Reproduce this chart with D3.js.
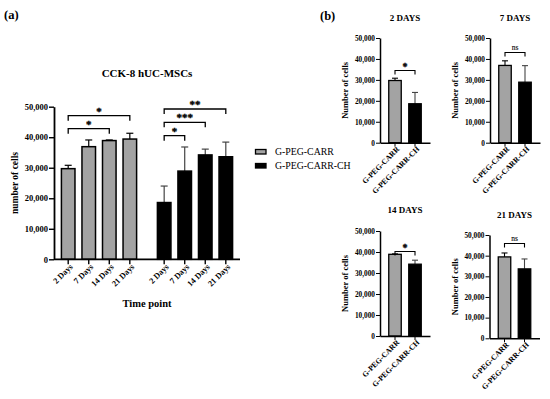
<!DOCTYPE html>
<html><head><meta charset="utf-8">
<script src="https://cdn.jsdelivr.net/npm/d3@7"></script>
<style>
body{margin:0;background:#fff;}
svg{display:block;font-family:"Liberation Serif","Times New Roman",serif;}
.sig text{stroke:#000;stroke-width:0.35px;}
</style></head>
<body><svg id="c" width="550" height="399"></svg>
<script>
const days = ["2 Days","7 Days","14 Days","21 Days"];
const groups = ["G-PEG-CARR","G-PEG-CARR-CH"];
const carrMean = [29700, 36900, 38900, 39400];
const carrErr  = [1100, 2200, 200, 1900];
const chMean   = [18600, 28900, 34200, 33600];
const chErr    = [5400, 7900, 1900, 4800];
const yTicks   = [0, 10000, 20000, 30000, 40000, 50000];
const panelTitles = ["2 DAYS","7 DAYS","14 DAYS","21 DAYS"];
const panelSig = ["*","ns","*","ns"];
// main-chart significance: group index, from day, to day, label
const sigGroup = [0, 0, 1, 1, 1];
const sigFrom  = [0, 0, 0, 0, 0];
const sigTo    = [2, 3, 1, 2, 3];
const sigLabel = ["*", "*", "*", "***", "**"];

const fills = ["#a3a3a3", "#000"];
const errCol = ["#000", "#444"];
const svg = d3.select("#c");
const fmt = d3.format(",");

// ---------- panel (a) ----------
const y = d3.scaleLinear().domain([0, 50000]).range([259.3, 106.7]);
const xo = d3.scaleBand().domain(groups).range([54, 240]).paddingInner(0.208).paddingOuter(0.073);
const xi = d3.scaleBand().domain(days).range([0, xo.bandwidth()]).paddingInner(0.34).paddingOuter(0.02);

svg.append("text").attr("x", 4).attr("y", 19).attr("font-size", 12.5).attr("font-weight", "bold").text("(a)");
svg.append("text").attr("x", 147).attr("y", 77).attr("text-anchor", "middle")
  .attr("font-size", 11).attr("font-weight", "bold").text("CCK-8 hUC-MSCs");

const means = [carrMean, chMean], errs = [carrErr, chErr];
groups.forEach((g, gi) => {
  const gg = svg.append("g").attr("transform", `translate(${xo(g)},0)`);
  days.forEach((d, di) => {
    const cx = xi(d) + xi.bandwidth() / 2;
    const top = y(means[gi][di] + errs[gi][di]);
    gg.append("line").attr("x1", cx).attr("x2", cx).attr("y1", y(means[gi][di])).attr("y2", top)
      .attr("stroke", errCol[gi]).attr("stroke-width", 1.2);
    gg.append("line").attr("x1", cx - 3.5).attr("x2", cx + 3.5).attr("y1", top).attr("y2", top)
      .attr("stroke", errCol[gi]).attr("stroke-width", 1.2);
    gg.append("rect").attr("x", xi(d)).attr("width", xi.bandwidth())
      .attr("y", y(means[gi][di])).attr("height", y(0) - y(means[gi][di]))
      .attr("fill", fills[gi]).attr("stroke", "#000").attr("stroke-width", 1.5);
  });
  const ax = gg.append("g").attr("transform", `translate(0,${y(0)})`)
    .call(d3.axisBottom(xi).tickSize(5).tickSizeOuter(0));
  ax.select(".domain").remove();
  ax.selectAll(".tick line").attr("stroke-width", 1.4);
  ax.selectAll("text").attr("font-size", 8.3).attr("font-weight", "bold").attr("font-family", "Liberation Serif")
    .attr("text-anchor", "end").attr("transform", "translate(3,6) rotate(-45)").attr("dy", "0.35em").attr("y", 0);
});
svg.append("line").attr("x1", 54).attr("x2", 240).attr("y1", y(0)).attr("y2", y(0))
  .attr("stroke", "#000").attr("stroke-width", 1.8);

const yax = svg.append("g").attr("transform", "translate(54,0)")
  .call(d3.axisLeft(y).tickValues(yTicks).tickFormat(fmt).tickSize(5).tickSizeOuter(0));
yax.select(".domain").attr("stroke-width", 1.8);
yax.selectAll(".tick line").attr("stroke-width", 1.4);
yax.selectAll("text").attr("font-size", 8.5).attr("font-weight", "bold").attr("font-family", "Liberation Serif").attr("x", -6);

svg.append("text").attr("transform", `translate(18,${(y(0) + y(50000)) / 2}) rotate(-90)`)
  .attr("text-anchor", "middle").attr("font-size", 9.5).attr("font-weight", "bold").text("number of cells");
svg.append("text").attr("x", 147).attr("y", 307).attr("text-anchor", "middle")
  .attr("font-size", 10.5).attr("font-weight", "bold").text("Time point");

// brackets (a)
const bracketY = [128.7, 115.7, 135.7, 122.3, 109];
const sigG = svg.append("g").attr("class", "sig");
sigLabel.forEach((lab, i) => {
  const g = groups[sigGroup[i]];
  const x1 = xo(g) + xi(days[sigFrom[i]]) + xi.bandwidth() / 2;
  const x2 = xo(g) + xi(days[sigTo[i]]) + xi.bandwidth() / 2;
  const by = bracketY[i];
  sigG.append("path").attr("d", `M${x1},${by + 5}V${by}H${x2}V${by + 5}`)
    .attr("fill", "none").attr("stroke", "#000").attr("stroke-width", 1.3);
  sigG.append("text").attr("x", (x1 + x2) / 2).attr("y", by - 1).attr("text-anchor", "middle")
    .attr("font-size", 11).attr("font-weight", "bold").attr("fill", "#000").text(lab);
});

// legend
groups.forEach((g, gi) => {
  const ly = 149.5 + gi * 14;
  svg.append("rect").attr("x", 255.5).attr("y", ly).attr("width", 10.5).attr("height", 4.5)
    .attr("fill", fills[gi]).attr("stroke", "#000").attr("stroke-width", 1.3);
  svg.append("text").attr("x", 275).attr("y", ly + 5.5).attr("font-size", 9.8).text(g);
});

// ---------- panel (b) ----------
svg.append("text").attr("x", 320).attr("y", 20).attr("font-size", 12.5).attr("font-weight", "bold").text("(b)");
const panelX0 = [380, 490, 380, 489.5];
const panelY0 = [142.7, 142.7, 336, 338.3];
const panelY50 = [38, 38, 231, 235];
const panelTitleY = [21, 21, 213, 218];
const panelBrY = [70.5, 52.5, 251.5, 243.5];

panelTitles.forEach((t, pi) => {
  const py = d3.scaleLinear().domain([0, 50000]).range([panelY0[pi], panelY50[pi]]);
  const px = d3.scaleBand().domain(groups).range([panelX0[pi], panelX0[pi] + 50]).paddingInner(0.375).paddingOuter(0.4375);
  const vals = [carrMean[pi], chMean[pi]], ev = [carrErr[pi], chErr[pi]];
  const g = svg.append("g");
  groups.forEach((gr, gi) => {
    const cx = px(gr) + px.bandwidth() / 2;
    const top = py(vals[gi] + ev[gi]);
    g.append("line").attr("x1", cx).attr("x2", cx).attr("y1", py(vals[gi])).attr("y2", top)
      .attr("stroke", errCol[gi]).attr("stroke-width", 1.1);
    g.append("line").attr("x1", cx - 3).attr("x2", cx + 3).attr("y1", top).attr("y2", top)
      .attr("stroke", errCol[gi]).attr("stroke-width", 1.1);
    g.append("rect").attr("x", px(gr)).attr("width", px.bandwidth()).attr("y", py(vals[gi]))
      .attr("height", py(0) - py(vals[gi])).attr("fill", fills[gi]).attr("stroke", "#000").attr("stroke-width", 1.3);
  });
  const xa = g.append("g").attr("transform", `translate(0,${py(0)})`)
    .call(d3.axisBottom(px).tickSize(4).tickSizeOuter(0));
  xa.select(".domain").attr("stroke-width", 1.5);
  xa.selectAll("text").attr("font-size", 7.7).attr("font-weight", "bold").attr("font-family", "Liberation Serif")
    .attr("text-anchor", "end").attr("transform", "translate(3,5) rotate(-45)").attr("dy", "0.35em").attr("y", 0);
  const ya = g.append("g").attr("transform", `translate(${panelX0[pi]},0)`)
    .call(d3.axisLeft(py).tickValues(yTicks).tickFormat(fmt).tickSize(4).tickSizeOuter(0));
  ya.select(".domain").attr("stroke-width", 1.5);
  ya.selectAll("text").attr("font-size", 7.3).attr("font-weight", "bold").attr("font-family", "Liberation Serif").attr("x", -5);
  g.append("text").attr("transform", `translate(${panelX0[pi] - 32},${(panelY0[pi] + panelY50[pi]) / 2}) rotate(-90)`)
    .attr("text-anchor", "middle").attr("font-size", 8.5).attr("font-weight", "bold").text("Number of cells");
  g.append("text").attr("x", panelX0[pi] + 25).attr("y", panelTitleY[pi]).attr("text-anchor", "middle")
    .attr("font-size", 9).attr("font-weight", "bold").text(t);
  const x1 = px(groups[0]) + px.bandwidth() / 2, x2 = px(groups[1]) + px.bandwidth() / 2;
  const by = panelBrY[pi];
  const sg = g.append("g").attr("class", "sig");
  sg.append("path").attr("d", `M${x1},${by + 4}V${by}H${x2}V${by + 4}`)
    .attr("fill", "none").attr("stroke", "#000").attr("stroke-width", 1.1);
  const ns = panelSig[pi] === "ns";
  sg.append("text").attr("x", (x1 + x2) / 2).attr("y", ns ? by - 3 : by - 1).attr("text-anchor", "middle")
    .attr("font-size", ns ? 7.5 : 10).attr("font-weight", ns ? "normal" : "bold").attr("fill", "#000")
    .style("stroke-width", ns ? "0.1px" : "0.35px").text(panelSig[pi]);
});
</script></body></html>
